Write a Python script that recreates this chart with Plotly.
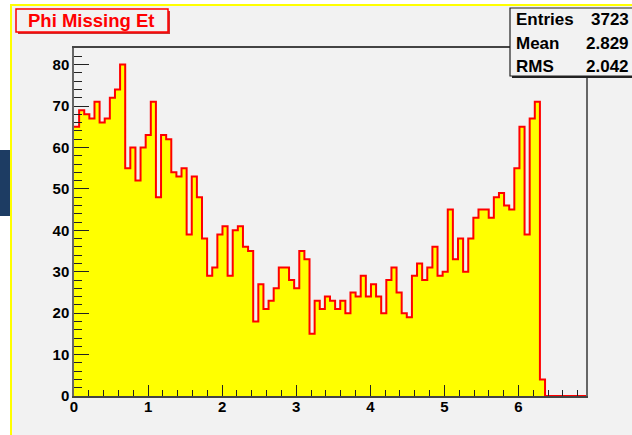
import math

import plotly.graph_objects as go

# Histogram "Phi Missing Et": 100 bins on [0, 2.2*pi]
N_BINS = 100
X_MIN = 0.0
X_MAX = 2.2 * math.pi
counts = [
    65, 69, 68, 67, 71, 66, 67, 72, 74, 80,
    55, 60, 52, 60, 63, 71, 48, 63, 62, 54,
    53, 55, 39, 53, 48, 38, 29, 31, 39, 41,
    29, 40, 41, 36, 35, 18, 27, 21, 23, 26,
    31, 31, 28, 26, 35, 33, 15, 23, 21, 24,
    23, 21, 23, 20, 25, 24, 29, 24, 27, 24,
    20, 28, 31, 25, 20, 19, 29, 32, 28, 31,
    36, 29, 30, 45, 33, 38, 30, 38, 43, 45,
    45, 43, 48, 49, 46, 45, 55, 65, 39, 67,
    71, 4, 0, 0, 0, 0, 0, 0, 0, 0,
]
title_text = "Phi Missing Et"
stat_names = ["Entries", "Mean", "RMS"]
stat_values = ["3723", "2.829", "2.042"]

# canvas geometry (pixels)
W, H = 632, 435
L, R, T, B = 74, 46, 48, 39
PW, PH = W - L - R, H - T - B


def px(x):
    return (x - L) / PW


def py(y):
    return (H - B - y) / PH


bw = (X_MAX - X_MIN) / N_BINS
edges = [X_MIN + i * bw for i in range(N_BINS + 1)]

fig = go.Figure()
fig.add_trace(
    go.Scatter(
        x=edges,
        y=counts + [counts[-1]],
        mode="lines",
        line_shape="hv",
        fill="tozeroy",
        fillcolor="#ffff00",
        line=dict(color="#ff0000", width=2),
        hoverinfo="skip",
        showlegend=False,
    )
)

FONT = "Liberation Sans, Arial, Helvetica, sans-serif"
BG = "#f2f2f2"

shapes = [
    # pad background with yellow border
    dict(type="rect", xref="paper", yref="paper", layer="below",
         x0=px(11), x1=px(640), y0=py(5), y1=py(445),
         fillcolor=BG, line=dict(color="#ffff00", width=2)),
    # navy strip at left edge
    dict(type="rect", xref="paper", yref="paper", layer="below",
         x0=px(-2), x1=px(10), y0=py(150), y1=py(216),
         fillcolor="#1d3c63", line=dict(width=0)),
    # title box shadow + box
    dict(type="rect", xref="paper", yref="paper",
         x0=px(18), x1=px(170), y0=py(11), y1=py(34),
         fillcolor="#d03030", line=dict(width=0)),
    dict(type="rect", xref="paper", yref="paper",
         x0=px(16), x1=px(168), y0=py(9), y1=py(32),
         fillcolor=BG, line=dict(color="#ff0000", width=1.5)),
    # stats box shadow + box
    dict(type="rect", xref="paper", yref="paper",
         x0=px(512), x1=px(645), y0=py(10), y1=py(78),
         fillcolor="#222222", line=dict(width=0)),
    dict(type="rect", xref="paper", yref="paper",
         x0=px(510), x1=px(643), y0=py(8), y1=py(76),
         fillcolor=BG, line=dict(color="#222222", width=1.2)),
]

annotations = [
    dict(text=title_text, xref="paper", yref="paper", x=px(91), y=py(20.5),
         xanchor="center", yanchor="middle", showarrow=False,
         font=dict(family=FONT, size=18.5, color="#ff0000", weight="bold")),
]
for i, (name, val) in enumerate(zip(stat_names, stat_values)):
    yc = py(20 + 23 * i)
    annotations.append(dict(text=name, xref="paper", yref="paper", x=px(514), y=yc,
                            xanchor="left", yanchor="middle", showarrow=False,
                            font=dict(family=FONT, size=17, color="#000000", weight="bold")))
    annotations.append(dict(text=val, xref="paper", yref="paper", x=px(631), y=yc,
                            xanchor="right", yanchor="middle", showarrow=False,
                            font=dict(family=FONT, size=17, color="#000000", weight="bold")))

tickfont = dict(family=FONT, size=15, color="#000000", weight="bold")

fig.update_layout(
    width=W,
    height=H,
    margin=dict(l=L, r=R, t=T, b=B, pad=0),
    paper_bgcolor="#ffffff",
    plot_bgcolor="rgba(0,0,0,0)",
    shapes=shapes,
    annotations=annotations,
    xaxis=dict(
        range=[X_MIN, X_MAX], tick0=0, dtick=1,
        ticks="inside", ticklen=11, tickwidth=1, tickcolor="#222222",
        minor=dict(ticks="inside", ticklen=6, dtick=0.2, tickwidth=1, tickcolor="#222222"),
        showgrid=False, zeroline=False,
        showline=True, mirror=True, linecolor="#444444", linewidth=1.5,
        tickfont=tickfont, ticklabelstandoff=-4,
    ),
    yaxis=dict(
        range=[0, 84], tick0=0, dtick=10,
        ticks="inside", ticklen=15, tickwidth=1, tickcolor="#222222",
        minor=dict(ticks="inside", ticklen=8, dtick=2, tickwidth=1, tickcolor="#222222"),
        showgrid=False, zeroline=False,
        showline=True, mirror=True, linecolor="#666666", linewidth=1.5,
        tickfont=tickfont,
    ),
)

# drop the browser's default body margin so the figure sits at the window origin
fig.write_html("out.html", config={"displayModeBar": False},
               post_script="document.body.style.margin='0';")
